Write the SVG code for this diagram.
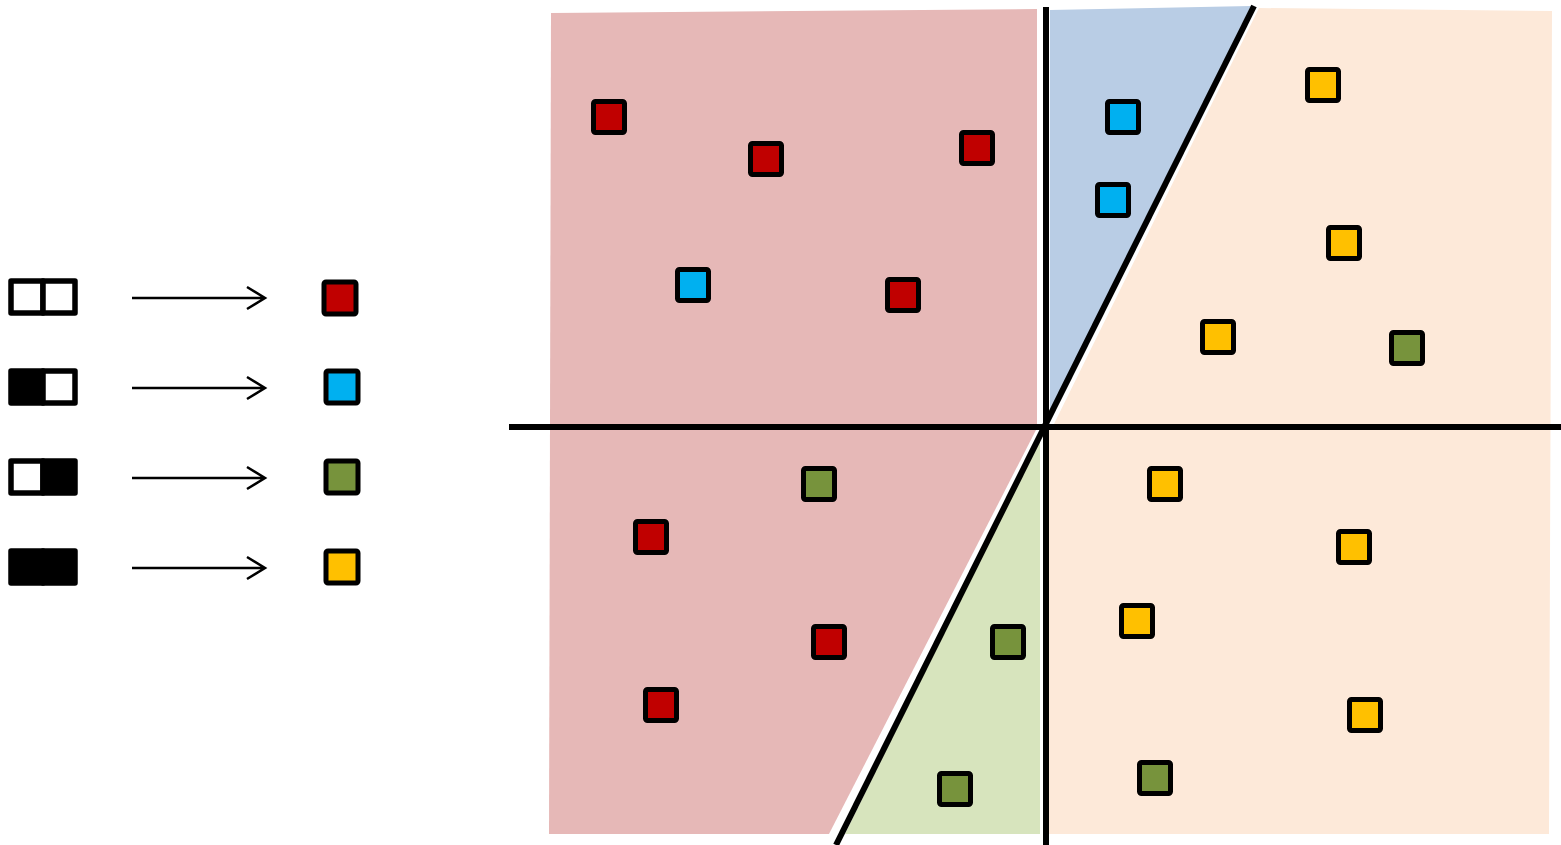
<svg xmlns="http://www.w3.org/2000/svg" width="1561" height="845" viewBox="0 0 1561 845">
<style>
.sq{stroke:#000;stroke-width:5;stroke-linejoin:round}
.r{fill:#C00000}.b{fill:#00B0F0}.g{fill:#77933C}.y{fill:#FFC000}
.bx{stroke:#000;stroke-width:5.5;stroke-linejoin:round}
.w{fill:#fff}.k{fill:#000}
.ar{fill:none;stroke:#000;stroke-width:2.5}
.ln{stroke:#000;stroke-width:6;fill:none}
</style>
<defs>
<rect id="s" x="-15.5" y="-15.5" width="31" height="31" rx="2"/>
<rect id="L" x="-16" y="-16" width="32" height="32" rx="2"/>
</defs>
<rect width="1561" height="845" fill="#fff"/>
<g id="regions">
<polygon id="red-region" fill="#E6B8B7" points="551,13 1037,9 1037,428 829,834 549,834"/>
<polygon id="blue-region" fill="#B9CDE5" points="1050,10 1251,6 1050,412"/>
<polygon id="peach-region" fill="#FDE9D9" points="1259,8 1552,11 1549,834 1049,834 1049,430 1052,428"/>
<polygon id="green-region" fill="#D7E4BD" points="1040,436 1040,834 845,834"/>
</g>
<g id="connectors">
<line class="ln" x1="509" y1="427" x2="1561" y2="427"/>
<line class="ln" x1="1046" y1="7" x2="1046" y2="845"/>
<line class="ln" x1="1254" y1="6" x2="836" y2="845" stroke-width="7"/>
<g id="arrows">
<path class="ar" d="M132,298 H265 M247,287 L265,298 L247,309"/>
<path class="ar" d="M132,388 H265 M247,377 L265,388 L247,399"/>
<path class="ar" d="M132,478 H265 M247,467 L265,478 L247,489"/>
<path class="ar" d="M132,568 H265 M247,557 L265,568 L247,579"/>
</g>
</g>
<g id="legend">
<g id="leg1"><rect class="bx w" x="11" y="281" width="32" height="32"/><rect class="bx w" x="43" y="281" width="32" height="32"/></g>
<g id="leg2"><rect class="bx k" x="11" y="371" width="32" height="32"/><rect class="bx w" x="43" y="371" width="32" height="32"/></g>
<g id="leg3"><rect class="bx w" x="11" y="461" width="32" height="32"/><rect class="bx k" x="43" y="461" width="32" height="32"/></g>
<g id="leg4"><rect class="bx k" x="11" y="551" width="32" height="32"/><rect class="bx k" x="43" y="551" width="32" height="32"/></g>
<use id="legsq1" href="#L" class="sq r" x="340" y="298"/>
<use id="legsq2" href="#L" class="sq b" x="342" y="387"/>
<use id="legsq3" href="#L" class="sq g" x="342" y="477"/>
<use id="legsq4" href="#L" class="sq y" x="342" y="567"/>
</g>
<g id="points">
<use href="#s" class="sq r" x="609" y="117"/>
<use href="#s" class="sq r" x="766" y="159"/>
<use href="#s" class="sq r" x="977" y="148"/>
<use href="#s" class="sq r" x="903" y="295"/>
<use href="#s" class="sq r" x="651" y="537"/>
<use href="#s" class="sq r" x="829" y="642"/>
<use href="#s" class="sq r" x="661" y="705"/>
<use href="#s" class="sq b" x="1123" y="117"/>
<use href="#s" class="sq b" x="1113" y="200"/>
<use href="#s" class="sq b" x="693" y="285"/>
<use href="#s" class="sq y" x="1323" y="85"/>
<use href="#s" class="sq y" x="1344" y="243"/>
<use href="#s" class="sq y" x="1218" y="337"/>
<use href="#s" class="sq y" x="1165" y="484"/>
<use href="#s" class="sq y" x="1354" y="547"/>
<use href="#s" class="sq y" x="1137" y="621"/>
<use href="#s" class="sq y" x="1365" y="715"/>
<use href="#s" class="sq g" x="1407" y="348"/>
<use href="#s" class="sq g" x="819" y="484"/>
<use href="#s" class="sq g" x="1008" y="642"/>
<use href="#s" class="sq g" x="955" y="789"/>
<use href="#s" class="sq g" x="1155" y="778"/>
</g>
</svg>
